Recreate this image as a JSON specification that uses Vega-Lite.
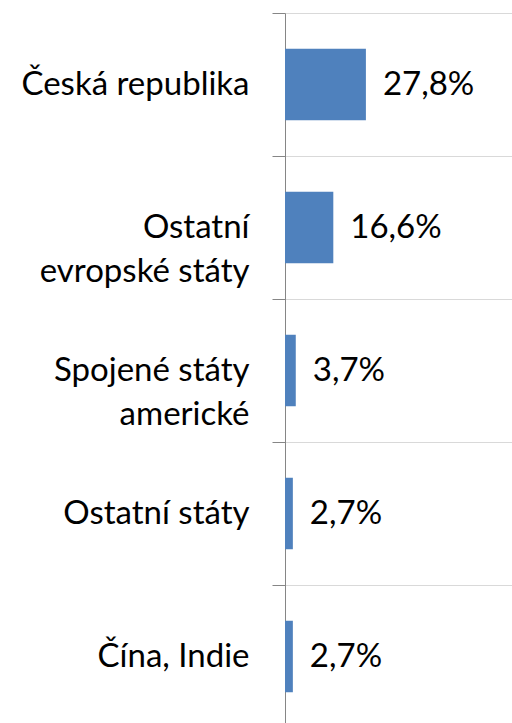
{
  "$schema": "https://vega.github.io/schema/vega-lite/v6.json",
  "autosize": {"type": "none"},
  "padding": {"left": 285, "top": 13, "right": 0, "bottom": 0},
  "width": 227,
  "height": 715,
  "background": "white",
  "config": {
    "view": {"stroke": null},
    "font": "Lato",
    "locale": {"number": {"decimal": ",", "thousands": " ", "grouping": [3], "currency": ["", " Kč"]}}
  },
  "data": {
    "values": [
      {"oblast": "Česká republika", "podil": 0.278},
      {"oblast": "Ostatní|evropské státy", "podil": 0.166},
      {"oblast": "Spojené státy|americké", "podil": 0.037},
      {"oblast": "Ostatní státy", "podil": 0.027},
      {"oblast": "Čína, Indie", "podil": 0.027}
    ]
  },
  "encoding": {
    "y": {
      "field": "oblast",
      "type": "nominal",
      "sort": null,
      "title": null,
      "scale": {"paddingInner": 0, "paddingOuter": 0},
      "axis": {
        "labelExpr": "split(datum.label, '|')",
        "labelFont": "Lato",
        "labelFontSize": 33,
        "labelColor": "black",
        "labelAlign": "right",
        "labelPadding": 23,
        "labelLineHeight": 44,
        "labelLimit": 400,
        "tickBand": "extent",
        "tickSize": 13,
        "tickColor": "#868686",
        "domainColor": "#868686",
        "grid": true,
        "gridColor": "#d9d9d9",
        "gridWidth": 1
      }
    },
    "x": {
      "field": "podil",
      "type": "quantitative",
      "scale": {"domain": [0, 0.78], "nice": false},
      "axis": null
    }
  },
  "layer": [
    {"mark": {"type": "bar", "color": "#4f81bd", "height": {"band": 0.5}}},
    {
      "mark": {"type": "text", "align": "left", "baseline": "middle", "dx": 17, "font": "Lato", "fontSize": 33, "color": "black"},
      "encoding": {"text": {"field": "podil", "type": "quantitative", "format": ".1%"}}
    }
  ]
}
